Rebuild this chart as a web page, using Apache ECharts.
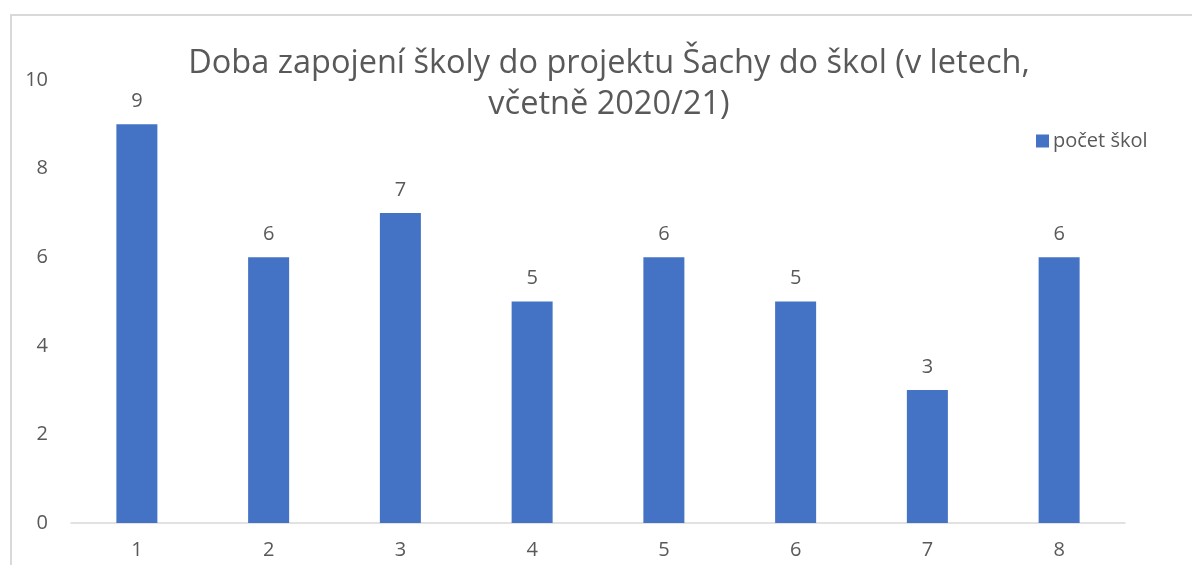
<!DOCTYPE html>
<html>
<head>
<meta charset="utf-8">
<script src="https://cdn.jsdelivr.net/npm/echarts@6/dist/echarts.min.js"></script>
<style>
  html, body { margin: 0; padding: 0; background: #fff; overflow: hidden; }
  #frame { position: absolute; left: 10px; top: 14px; width: 1200px; height: 600px;
           border-left: 2px solid #d9d9d9; border-top: 2px solid #d9d9d9; }
  #main { position: absolute; left: 0; top: 0; width: 1192px; height: 565px; }
</style>
</head>
<body>
<div id="frame"></div>
<div id="main"></div>
<script>
  var categories = ['1', '2', '3', '4', '5', '6', '7', '8'];
  var pocetSkol = [9, 6, 7, 5, 6, 5, 3, 6];

  var textColor = '#595959';
  var font = 'Open Sans';

  var chart = echarts.init(document.getElementById('main'));
  chart.setOption({
    animation: false,
    title: {
      text: 'Doba zapojení školy do projektu Šachy do škol (v letech,\nvčetně 2020/21)',
      left: 604,
      textAlign: 'center',
      top: 38,
      textStyle: {
        color: textColor,
        fontFamily: font,
        fontWeight: 'normal',
        fontSize: 32.5,
        lineHeight: 41
      }
    },
    legend: {
      data: ['počet škol'],
      left: 1031,
      top: 126,
      itemWidth: 13,
      itemHeight: 13,
      itemGap: 6,
      icon: 'rect',
      textStyle: { color: textColor, fontFamily: font, fontSize: 20, padding: [0, 0, 0, -1] }
    },
    grid: { left: 71, right: 67, top: 80, bottom: 42 },
    xAxis: {
      type: 'category',
      data: categories,
      axisLine: { lineStyle: { color: '#d9d9d9', width: 1.5 } },
      axisTick: { show: false },
      axisLabel: { color: textColor, fontFamily: font, fontSize: 20, margin: 17 }
    },
    yAxis: {
      type: 'value',
      min: 0,
      max: 10,
      interval: 2,
      axisLine: { show: false },
      axisTick: { show: false },
      splitLine: { show: false },
      axisLabel: { color: textColor, fontFamily: font, fontSize: 20, margin: 23 }
    },
    series: [{
      name: 'počet škol',
      type: 'bar',
      data: pocetSkol,
      barWidth: 41,
      itemStyle: { color: '#4472c4' },
      label: {
        show: true,
        position: 'top',
        distance: 13,
        color: textColor,
        fontFamily: font,
        fontSize: 20
      }
    }]
  });
</script>
</body>
</html>
